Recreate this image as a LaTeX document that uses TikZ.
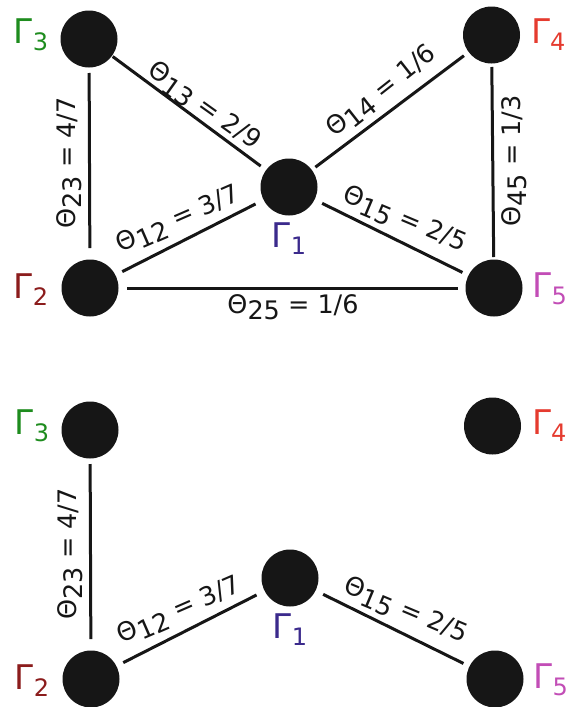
\documentclass[tikz,border=0pt]{standalone}
\usepackage{fontspec}
\setmainfont{DejaVu Sans}
\definecolor{nodefill}{HTML}{161616}
\definecolor{gOne}{HTML}{3B2A8C}
\definecolor{gTwo}{HTML}{8B1C1C}
\definecolor{gThree}{HTML}{1E8C1E}
\definecolor{gFour}{HTML}{E53B2F}
\definecolor{gFive}{HTML}{C24DB6}
\newcommand\gam[1]{Γ\raisebox{-7.5pt}{\fontsize{24}{24}\selectfont #1}}
\newcommand\thet[2]{Θ\raisebox{-6pt}{#1} = #2}
\begin{document}
\begin{tikzpicture}[x=1pt,y=-1pt,
 vtx/.style={circle, fill=nodefill, minimum size=57pt, inner sep=0pt, outer sep=0pt},
 edg/.style={draw=nodefill, line width=3pt},
 glab/.style={anchor=base west, inner sep=0pt, font=\fontsize{34}{34}\selectfont},
 tlab/.style={anchor=base, inner sep=0pt, font=\fontsize{25.5}{25.5}\selectfont, text=nodefill}]
\useasboundingbox (0,0) rectangle (568,707);
% ---------- top graph ----------
\node[vtx] (t1) at (289,187) {};
\node[vtx] (t2) at (90,288) {};
\node[vtx] (t3) at (89,39) {};
\node[vtx] (t4) at (491.5,35) {};
\node[vtx] (t5) at (494,288) {};
\node[glab, text=gThree] (tl3) at (13.7,43) {\gam{3}};
\node[glab, text=gTwo] (tl2) at (13.7,298) {\gam{2}};
\node[glab, text=gOne] (tl1) at (271.7,247) {\gam{1}};
\node[glab, text=gFour] (tl4) at (531,43) {\gam{4}};
\node[glab, text=gFive] (tl5) at (532.5,297) {\gam{5}};
\draw[edg, shorten <=5.5pt, shorten >=11.5pt] (t3) -- (t2);
\draw[edg, shorten <=1pt, shorten >=6.7pt] (t3) -- (t1);
\draw[edg, shorten <=7.7pt, shorten >=9pt] (t2) -- (t1);
\draw[edg, shorten <=8.5pt, shorten >=7.5pt] (t2) -- (t5);
\draw[edg, shorten <=4.5pt, shorten >=6pt] (t1) -- (t4);
\draw[edg, shorten <=8.4pt, shorten >=6.7pt] (t1) -- (t5);
\draw[edg, shorten <=3.5pt, shorten >=2.5pt] (t4) -- (t5);
\node[tlab, rotate=-35.5] (tq13) at (200,112) {\thet{13}{2/9}};
\node[tlab, rotate=23.5] (tq12) at (181,226) {\thet{12}{3/7}};
\node[tlab, rotate=38.2] (tq14) at (386,97) {\thet{14}{1/6}};
\node[tlab, rotate=-22.8] (tq15) at (402,226) {\thet{15}{2/5}};
\node[tlab, rotate=90] (tq23) at (75,163) {\thet{23}{4/7}};
\node[tlab, rotate=90] (tq45) at (520,161) {\thet{45}{1/3}};
\node[tlab] (tq25) at (293,313) {\thet{25}{1/6}};
% ---------- bottom graph ----------
\begin{scope}[shift={(1,391)}]
\node[vtx] (b1) at (289,187) {};
\node[vtx] (b2) at (90,288) {};
\node[vtx] (b3) at (89,39) {};
\node[vtx] (b4) at (491.5,35) {};
\node[vtx] (b5) at (494,288) {};
\node[glab, text=gThree] (bl3) at (13.7,43) {\gam{3}};
\node[glab, text=gTwo] (bl2) at (13.7,298) {\gam{2}};
\node[glab, text=gOne] (bl1) at (271.7,247) {\gam{1}};
\node[glab, text=gFour] (bl4) at (531,43) {\gam{4}};
\node[glab, text=gFive] (bl5) at (532.5,297) {\gam{5}};
\draw[edg, shorten <=5.5pt, shorten >=11.5pt] (b3) -- (b2);
\draw[edg, shorten <=7.7pt, shorten >=9pt] (b2) -- (b1);
\draw[edg, shorten <=8.4pt, shorten >=6.7pt] (b1) -- (b5);
\node[tlab, rotate=23.5] (bq12) at (181,226) {\thet{12}{3/7}};
\node[tlab, rotate=-22.8] (bq15) at (402,226) {\thet{15}{2/5}};
\node[tlab, rotate=90] (bq23) at (75,163) {\thet{23}{4/7}};
\end{scope}
\end{tikzpicture}
\end{document}
